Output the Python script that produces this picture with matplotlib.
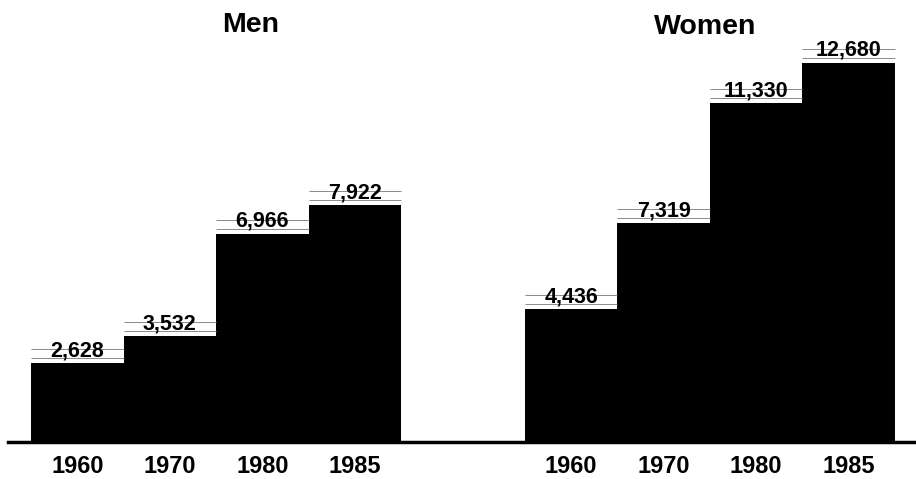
import matplotlib.pyplot as plt
import numpy as np

years = ['1960', '1970', '1980', '1985']
men = [2628, 3532, 6966, 7922]
women = [4436, 7319, 11330, 12680]
groups = ['Men', 'Women']

W, H = 916, 479
fig = plt.figure(figsize=(W / 100, H / 100), dpi=100)
fig.patch.set_facecolor('white')

# axes: baseline at 442 px from top, left edge at 8 px
ax = fig.add_axes([8 / W, 37 / H, 908 / W, 442 / H])
ax.set_xlim(-0.749, 9.068)
ax.set_ylim(0, 14783)
ax.axis('off')
px = 14783 / 442  # data units per pixel, vertically

women_offset = 5.34
x_men = np.arange(len(years))
x_women = x_men + women_offset

font = {'family': ['Liberation Sans', 'DejaVu Sans'], 'weight': 'bold'}

for xs, vals in [(x_men, men), (x_women, women)]:
    ax.bar(xs, vals, width=1.0, color='black', edgecolor='none')
    for x, v, yr in zip(xs, vals, years):
        # faint ruling lines from the printed original
        ax.hlines([v + 5 * px, v + 14 * px], x - 0.5, x + 0.5, color='#8a8a8a', lw=0.7)
        ax.annotate('{:,}'.format(v), (x, v), xytext=(0, 5), textcoords='offset points',
                    ha='center', va='baseline', fontsize=15.5, color='black', **font)
        ax.annotate(yr, (x, 0), xytext=(0, -17.5), textcoords='offset points',
                    ha='center', va='center', fontsize=17, color='black', **font)

ax.axhline(0, color='black', lw=2.5, clip_on=False)

fig.text(251 / W, 1 - 25 / H, groups[0], ha='center', va='center', fontsize=20.5, **font)
fig.text(705 / W, 1 - 27 / H, groups[1], ha='center', va='center', fontsize=20.5, **font)

plt.savefig('out.png', dpi=100, facecolor='white')
